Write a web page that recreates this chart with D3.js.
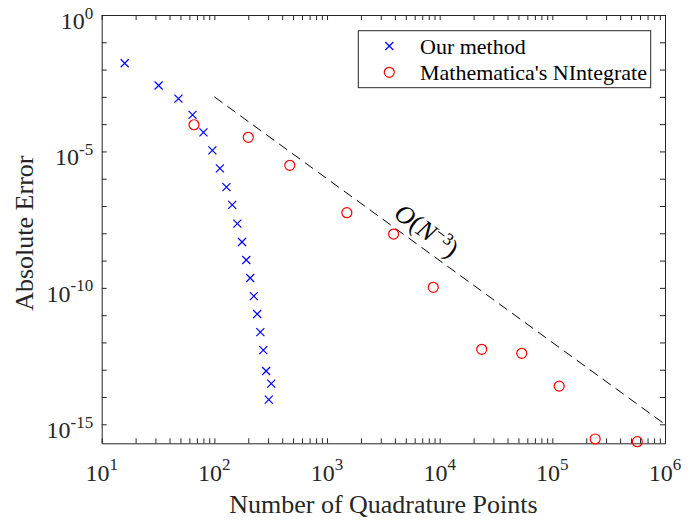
<!DOCTYPE html>
<html>
<head>
<meta charset="utf-8">
<script src="https://cdn.jsdelivr.net/npm/d3@7"></script>
<style>
  body { margin: 0; background: #fff; }
  text { font-family: "Liberation Serif", "Times New Roman", serif; fill: #262626; }
  .axis path, .axis line { stroke: #262626; }
</style>
</head>
<body>
<div id="chart"></div>
<script>
// ==== Data ====
const ourN = [16, 32, 48, 64, 80, 96, 112, 128, 144, 160, 176, 192, 208, 224, 240, 256, 272, 288, 304, 320];
const ourErr = [1.7e-2, 2.6e-3, 8.6e-4, 2.2e-4, 5.0e-5, 1.1e-5, 2.4e-6, 4.9e-7, 1.1e-7, 2.25e-8,
                4.8e-9, 1.05e-9, 2.3e-10, 5.0e-11, 1.1e-11, 2.4e-12, 5.2e-13, 9.0e-14, 8.0e-15, 3.1e-14];

const mmaN = [66, 200, 467, 1500, 3900, 8770, 23600, 53500, 115000, 240000, 568000];
const mmaErr = [9.5e-5, 3.3e-5, 3.1e-6, 5.7e-8, 9.4e-9, 1.05e-10, 5.6e-13, 4.0e-13, 2.5e-14, 2.9e-16, 2.3e-16];

// O(N^-3) reference line
const refN = [100, 1e6];
const refErr = [1e-3, 1e-15];

const xTickExp = [1, 2, 3, 4, 5, 6];
const yTickExp = [0, -5, -10, -15];
const legendLabels = ["Our method", "Mathematica's NIntegrate"];

// ==== Initialization ====
const margin = ({ top: 15, right: 35, bottom: 77.7, left: 101.7 });
const width = 700 - margin.left - margin.right;
const height = 521 - margin.top - margin.bottom;

const svg = d3.select("#chart")
    .append("svg")
    .attr("width", width + margin.left + margin.right)
    .attr("height", height + margin.top + margin.bottom)
    .append("g")
    .attr("transform", `translate(${margin.left},${margin.top})`);

// ==== Scales ====
const xScale = d3.scaleLog().domain([1e1, 1e6]).range([0, width]);
const yScale = d3.scaleLog().domain([Math.pow(10, -15.696), 1]).range([height, 0]);

// tick values: minor 2..9 per decade on x, every decade on y
const xTicks = [];
for (let e = 1; e < 6; e++) for (let m = 1; m < 10; m++) xTicks.push(m * Math.pow(10, e));
xTicks.push(1e6);
const yTicks = d3.range(0, -16, -1).map(e => Math.pow(10, e));

// ==== Axes (ticks pointing inward, box on) ====
const tick = 5;
const axes = [
    { ax: d3.axisBottom(xScale).tickValues(xTicks).tickSize(-tick), t: `translate(0,${height})` },
    { ax: d3.axisTop(xScale).tickValues(xTicks).tickSize(-tick), t: `translate(0,0)` },
    { ax: d3.axisLeft(yScale).tickValues(yTicks).tickSize(-tick), t: `translate(0,0)` },
    { ax: d3.axisRight(yScale).tickValues(yTicks).tickSize(-tick), t: `translate(${width},0)` }
];
axes.forEach(a => {
    const g = svg.append("g")
        .attr("class", "axis")
        .attr("transform", a.t)
        .call(a.ax.tickFormat("").tickSizeOuter(0));
    g.selectAll("text").remove();
});

// tick labels with superscript exponents
xTickExp.forEach(e => {
    const t = svg.append("text")
        .attr("x", xScale(Math.pow(10, e)))
        .attr("y", height + 37.7)
        .attr("text-anchor", "middle")
        .style("font-size", "24px");
    t.append("tspan").text("10");
    t.append("tspan").attr("dy", -11).style("font-size", "17px").text(e);
});
yTickExp.forEach(e => {
    const t = svg.append("text")
        .attr("x", -8.5)
        .attr("y", yScale(Math.pow(10, e)) + 14)
        .attr("text-anchor", "end")
        .style("font-size", "24px");
    t.append("tspan").text("10");
    t.append("tspan").attr("dy", -10.5).style("font-size", "17px").text(e);
});

// axis titles
svg.append("text")
    .attr("x", width / 2)
    .attr("y", height + 70)
    .attr("text-anchor", "middle")
    .style("font-size", "26px")
    .text("Number of Quadrature Points");

svg.append("text")
    .attr("transform", `translate(${33 - margin.left},${height / 2 + 4}) rotate(-90)`)
    .attr("text-anchor", "middle")
    .style("font-size", "26px")
    .text("Absolute Error");

// ==== Reference line ====
const line = d3.line().x(d => xScale(d[0])).y(d => yScale(d[1]));
svg.append("path")
    .datum(d3.zip(refN, refErr))
    .attr("d", line)
    .attr("fill", "none")
    .attr("stroke", "#000")
    .attr("stroke-width", 1)
    .attr("stroke-dasharray", "10,6");

// O(N^-3) label along the line
const p0 = [xScale(refN[0]), yScale(refErr[0])];
const p1 = [xScale(refN[1]), yScale(refErr[1])];
const ang = Math.atan2(p1[1] - p0[1], p1[0] - p0[0]);
const at = Math.pow(10, 3.54);
const ax0 = xScale(at), ay0 = yScale(refErr[0] * Math.pow(at / refN[0], -3));
const off = 8;
const lbl = svg.append("text")
    .attr("transform", `translate(${ax0 + off * Math.sin(ang)},${ay0 - off * Math.cos(ang)}) rotate(${ang * 180 / Math.PI})`)
    .style("font-size", "26px")
    .style("fill", "#000");
lbl.append("tspan").style("font-style", "italic").text("O");
lbl.append("tspan").text("(");
lbl.append("tspan").style("font-style", "italic").text("N");
lbl.append("tspan").attr("dy", -9).style("font-size", "17px").text("−3");
lbl.append("tspan").attr("dy", 9).text(")");

// ==== Markers ====
const cross = (x, y, r) => `M${x - r},${y - r}L${x + r},${y + r}M${x - r},${y + r}L${x + r},${y - r}`;

svg.append("g").selectAll("path")
    .data(d3.zip(ourN, ourErr))
    .join("path")
    .attr("d", d => cross(xScale(d[0]), yScale(d[1]), 4))
    .attr("stroke", "#0000ff")
    .attr("stroke-width", 1.2)
    .attr("fill", "none");

svg.append("g").selectAll("circle")
    .data(d3.zip(mmaN, mmaErr))
    .join("circle")
    .attr("cx", d => xScale(d[0]))
    .attr("cy", d => yScale(d[1]))
    .attr("r", 5)
    .attr("stroke", "#ff0000")
    .attr("stroke-width", 1.2)
    .attr("fill", "none");

// ==== Legend ====
const legend = svg.append("g")
    .attr("transform", `translate(${358.3 - margin.left},${30.7 - margin.top})`);
legend.append("rect")
    .attr("width", 292.4)
    .attr("height", 57)
    .attr("fill", "#fff")
    .attr("stroke", "#262626")
    .attr("stroke-width", 1);
legend.append("path")
    .attr("d", cross(31, 15.3, 4))
    .attr("stroke", "#0000ff")
    .attr("stroke-width", 1.2);
legend.append("circle")
    .attr("cx", 31).attr("cy", 41.6).attr("r", 5)
    .attr("stroke", "#ff0000").attr("stroke-width", 1.2).attr("fill", "none");
legend.selectAll("text.lg")
    .data(legendLabels)
    .join("text")
    .attr("class", "lg")
    .attr("x", 61.7)
    .attr("y", (d, i) => 23.3 + i * 26.5)
    .style("font-size", "22px")
    .style("fill", "#000")
    .text(d => d);
</script>
</body>
</html>
